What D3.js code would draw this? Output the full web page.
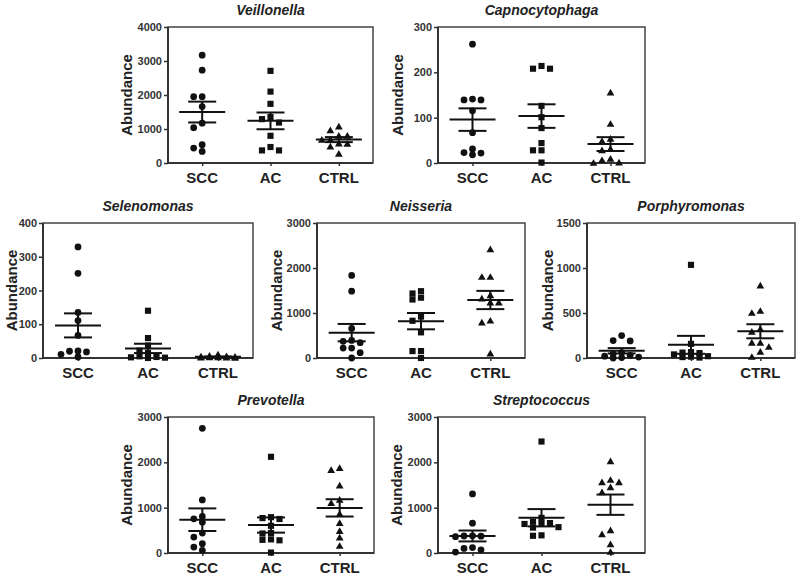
<!DOCTYPE html>
<html lang="en">
<head>
<meta charset="UTF-8">
<title>Genus abundance by group</title>
<script src="https://d3js.org/d3.v7.min.js"></script>
<style>
  body { margin: 0; background: #fff; }
  .tick text { font: bold 11px Arial, "Liberation Sans", sans-serif; fill: #333; }
  .tick line { stroke: #333; stroke-width: 1.5px; }
  .domain { display: none; }
  .title { font: italic bold 14px Arial, "Liberation Sans", sans-serif; fill: #222; }
  .cat { font: bold 15px Arial, "Liberation Sans", sans-serif; fill: #222; }
  .ylab { font: bold 15px Arial, "Liberation Sans", sans-serif; fill: #222; }
</style>
</head>
<body>
<script>
// groups on the x axis
const groups = ["SCC", "AC", "CTRL"];

// values per genus: [SCC, AC, CTRL]
const veillonella = [
  [3170, 2730, 1950, 1950, 1660, 1170, 1040, 540, 440, 340],
  [2710, 2100, 1740, 1350, 1290, 1190, 800, 470, 370, 370],
  [1070, 960, 800, 800, 690, 680, 570, 560, 480, 270]
];
const capnocytophaga = [
  [262, 139, 139, 141, 115, 67, 23, 18, 22, 31],
  [208, 208, 214, 126, 101, 77, 44, 28, 28, 1],
  [155, 86, 53, 48, 31, 28, 9, 6, 1, 0]
];
const selenomonas = [
  [329, 251, 135, 111, 67, 21, 18, 3, 11, 20],
  [140, 59, 37, 22, 15, 5, 3, 2, 1, 0],
  [10, 6, 5, 4, 3, 2, 2, 1, 1, 0]
];
const neisseria = [
  [1836, 1485, 658, 370, 390, 340, 220, 220, 117, 0],
  [1485, 1434, 1340, 1300, 920, 827, 570, 154, 154, 0],
  [2414, 1800, 1800, 1390, 1317, 1230, 1230, 827, 785, 95]
];
const porphyromonas = [
  [249, 194, 190, 60, 45, 30, 20, 10, 5, 0],
  [1035, 157, 66, 60, 55, 40, 20, 15, 10, 5],
  [803, 522, 500, 322, 289, 167, 167, 122, 67, 11]
];
const prevotella = [
  [2751, 1171, 805, 754, 680, 439, 351, 205, 132, 59],
  [2122, 790, 770, 750, 600, 440, 430, 300, 290, 280, 10],
  [1829, 1873, 1486, 1171, 1098, 863, 659, 483, 337, 154]
];
const streptococcus = [
  [1302, 659, 380, 375, 370, 360, 120, 100, 70, 20],
  [2459, 776, 690, 660, 650, 640, 570, 560, 390, 380],
  [2020, 1610, 1559, 1559, 1449, 1339, 498, 410, 190, 22]
];

const names = ["Veillonella", "Capnocytophaga", "Selenomonas", "Neisseria",
               "Porphyromonas", "Prevotella", "Streptococcus"];
const series = [veillonella, capnocytophaga, selenomonas, neisseria,
                porphyromonas, prevotella, streptococcus];
const yMax = [4000, 300, 400, 3000, 1500, 3000, 3000];
const yStep = [1000, 100, 100, 1000, 500, 1000, 1000];

// panel boxes in page pixels
const boxes = [
  { x0: 168, x1: 373, y0: 27, y1: 163, lab: 41 },
  { x0: 438, x1: 645, y0: 27, y1: 163, lab: 40 },
  { x0: 43, x1: 253, y0: 223, y1: 358, lab: 31 },
  { x0: 317, x1: 525, y0: 223, y1: 358, lab: 40 },
  { x0: 587, x1: 795, y0: 223, y1: 358, lab: 39 },
  { x0: 168, x1: 374, y0: 417, y1: 553, lab: 41 },
  { x0: 438, x1: 645, y0: 417, y1: 553, lab: 41 }
];

const svg = d3.select("body").append("svg")
  .attr("width", 800)
  .attr("height", 579);

svg.append("rect").attr("width", 800).attr("height", 579).attr("fill", "#fff");

const r = 3.3;      // marker radius
const step = 8.5;   // horizontal spread between overlapping points

// spread points sideways when they would overlap (like a column scatter),
// but keep the column narrow: crowded points end up overlapping a bit
function dodge(vals, y) {
  const sorted = vals.map(v => ({ v, py: y(v) })).sort((a, b) => a.py - b.py);
  const placed = [];
  const offs = [0, -step, step, -2 * step, 2 * step,
                -step / 2, step / 2, -1.5 * step, 1.5 * step];
  sorted.forEach(p => {
    const near = placed.filter(q => Math.abs(q.py - p.py) < 1.7 * r);
    let best = offs[0], bestCount = Infinity;
    for (const o of offs) {
      const c = near.filter(q => Math.abs(q.dx - o) < step - 0.5).length;
      if (c < bestCount) { best = o; bestCount = c; }
      if (c === 0) break;
    }
    p.dx = best;
    placed.push(p);
  });
  return placed;
}

const symbols = [d3.symbolCircle, d3.symbolSquare, d3.symbolTriangle];
const symSize = [36, 38, 26];

boxes.forEach((b, i) => {
  const g = svg.append("g");
  const x = d3.scalePoint().domain(groups).range([b.x0, b.x1]).padding(0.5);
  const y = d3.scaleLinear().domain([0, yMax[i]]).range([b.y1, b.y0]);

  // frame
  g.append("rect")
    .attr("x", b.x0).attr("y", b.y0)
    .attr("width", b.x1 - b.x0).attr("height", b.y1 - b.y0)
    .attr("fill", "none").attr("stroke", "#444").attr("stroke-width", 1.5);

  g.append("g")
    .attr("transform", `translate(${b.x0},0)`)
    .call(d3.axisLeft(y).tickValues(d3.range(0, yMax[i] + 1, yStep[i]))
      .tickFormat(d3.format("d"))
      .tickSize(4).tickPadding(2).tickSizeOuter(0));

  g.append("g")
    .attr("transform", `translate(0,${b.y1})`)
    .call(d3.axisBottom(x).tickSize(3).tickFormat(""));

  g.append("line")
    .attr("x1", b.x0).attr("x2", b.x0).attr("y1", b.y0).attr("y2", b.y1)
    .attr("stroke", "#333").attr("stroke-width", 2);
  g.append("line")
    .attr("x1", b.x0).attr("x2", b.x1).attr("y1", b.y1).attr("y2", b.y1)
    .attr("stroke", "#333").attr("stroke-width", 2);

  g.append("text").attr("class", "title")
    .attr("x", (b.x0 + b.x1) / 2).attr("y", b.y0 - 12)
    .attr("text-anchor", "middle").text(names[i]);

  g.selectAll(".cat").data(groups).join("text")
    .attr("class", "cat")
    .attr("x", d => x(d)).attr("y", b.y1 + 20)
    .attr("text-anchor", "middle").text(d => d);

  g.append("text").attr("class", "ylab")
    .attr("transform", `translate(${b.x0 - b.lab},${(b.y0 + b.y1) / 2}) rotate(-90)`)
    .attr("text-anchor", "middle").attr("dy", "0.35em").text("Abundance");

  series[i].forEach((vals, gi) => {
    const cx = x(groups[gi]);
    const pts = dodge(vals, y);
    g.append("g").selectAll("path").data(pts).join("path")
      .attr("d", d3.symbol(symbols[gi], symSize[gi]))
      .attr("transform", d => `translate(${cx + d.dx},${d.py + (gi === 2 ? 0.6 : 0)})`)
      .attr("fill", "#111");

    const m = d3.mean(vals);
    const sem = d3.deviation(vals) / Math.sqrt(vals.length);
    const st = g.append("g").attr("stroke", "#111").attr("stroke-width", 2);
    st.append("line").attr("x1", cx - 23).attr("x2", cx + 23).attr("y1", y(m)).attr("y2", y(m));
    st.append("line").attr("x1", cx - 14).attr("x2", cx + 14).attr("y1", y(m + sem)).attr("y2", y(m + sem));
    st.append("line").attr("x1", cx - 14).attr("x2", cx + 14).attr("y1", y(m - sem)).attr("y2", y(m - sem));
    st.append("line").attr("x1", cx).attr("x2", cx).attr("y1", y(m + sem)).attr("y2", y(m - sem));
  });
});
</script>
</body>
</html>
